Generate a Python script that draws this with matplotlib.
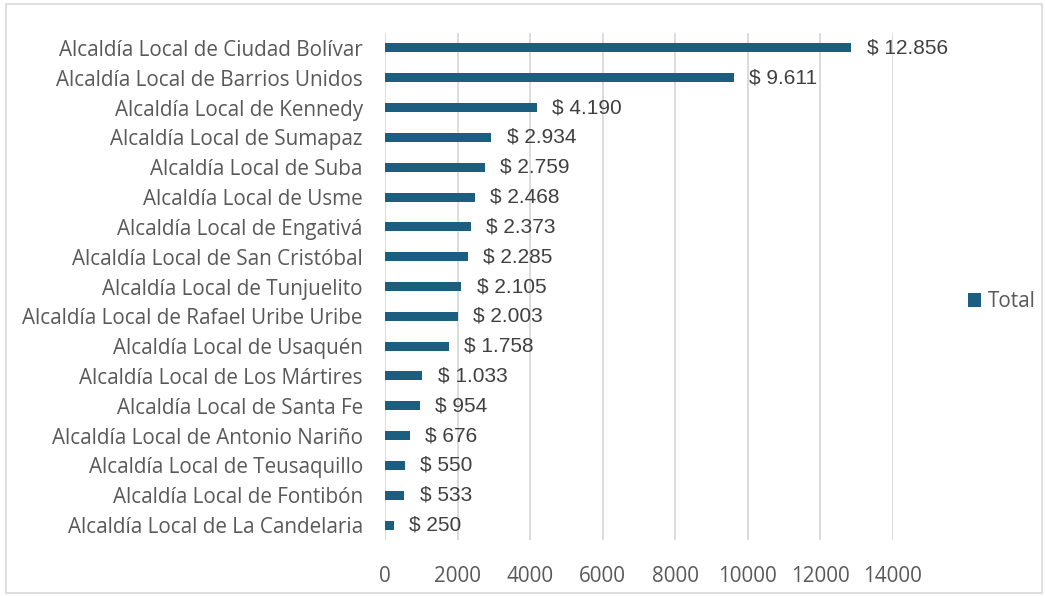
import matplotlib
matplotlib.use("Agg")
import matplotlib.pyplot as plt
from matplotlib.patches import Rectangle

categorias = [
    "Alcaldía Local de Ciudad Bolívar",
    "Alcaldía Local de Barrios Unidos",
    "Alcaldía Local de Kennedy",
    "Alcaldía Local de Sumapaz",
    "Alcaldía Local de Suba",
    "Alcaldía Local de Usme",
    "Alcaldía Local de Engativá",
    "Alcaldía Local de San Cristóbal",
    "Alcaldía Local de Tunjuelito",
    "Alcaldía Local de Rafael Uribe Uribe",
    "Alcaldía Local de Usaquén",
    "Alcaldía Local de Los Mártires",
    "Alcaldía Local de Santa Fe",
    "Alcaldía Local de Antonio Nariño",
    "Alcaldía Local de Teusaquillo",
    "Alcaldía Local de Fontibón",
    "Alcaldía Local de La Candelaria",
]
totales = [12856, 9611, 4190, 2934, 2759, 2468, 2373, 2285, 2105, 2003,
           1758, 1033, 954, 676, 550, 533, 250]
ticks_x = [0, 2000, 4000, 6000, 8000, 10000, 12000, 14000]

color_barra = "#1B5E80"
gris_texto = "#595959"
plt.rcParams["font.family"] = ["Open Sans", "DejaVu Sans"]

fig = plt.figure(figsize=(10.45, 5.96), dpi=100)
ax = fig.add_axes([385 / 1045, 1 - 540 / 596, 508 / 1045, 507 / 596])

pos = list(range(len(categorias)))
ax.barh(pos, totales, height=0.3, color=color_barra, label="Total", zorder=3)
ax.set_ylim(len(categorias) - 0.5, -0.5)
ax.set_xlim(0, 14000)
ax.set_xticks(ticks_x)
ax.set_xticklabels([str(t) for t in ticks_x])
ax.set_yticks(pos)
ax.set_yticklabels(categorias)
ax.tick_params(axis="both", length=0, colors=gris_texto, labelsize=14.9)
ax.tick_params(axis="x", pad=19)
ax.tick_params(axis="y", pad=16)
ax.grid(axis="x", color="#D9D9D9", linewidth=1.3, zorder=0)
for s in ax.spines.values():
    s.set_visible(False)

for p, v in zip(pos, totales):
    txt = "$ " + f"{v:,}".replace(",", ".")
    ax.annotate(txt, (v, p), xytext=(11, 0), textcoords="offset points",
                va="center", ha="left", fontsize=15, color="#404040",
                family=["Liberation Sans", "DejaVu Sans"])

ax.legend(loc="center left", bbox_to_anchor=(1.111, 0.47),
          frameon=False, fontsize=14.9, handlelength=0.65, handleheight=0.65,
          handletextpad=0.3, labelcolor=gris_texto)

fig.patches.append(Rectangle((6 / 1045, 3 / 596), 1036 / 1045, 589 / 596,
                             transform=fig.transFigure, fill=False,
                             edgecolor="#D9D9D9", linewidth=1.2))

fig.savefig("out.png", dpi=100)
